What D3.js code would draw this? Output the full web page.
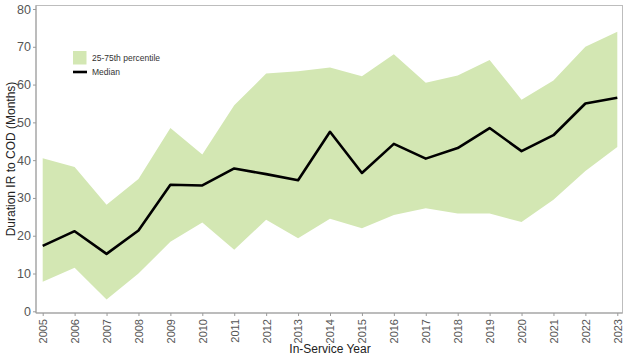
<!DOCTYPE html>
<html><head><meta charset="utf-8">
<script src="https://cdn.jsdelivr.net/npm/d3@7"></script>
<style>body{margin:0;background:#fff;} svg{display:block;font-family:"Liberation Sans",Arial,sans-serif;}</style>
</head><body>
<svg id="c" width="624" height="356"></svg>
<script>
const years = [2005,2006,2007,2008,2009,2010,2011,2012,2013,2014,2015,2016,2017,2018,2019,2020,2021,2022,2023];
const p75 = [40.5,38.2,28.2,35,48.5,41.5,54.5,62.9,63.5,64.5,62.2,68,60.5,62.4,66.5,56,61.1,70,74];
const median = [17.3,21.2,15.2,21.4,33.5,33.3,37.8,36.3,34.7,47.5,36.6,44.3,40.4,43.2,48.5,42.4,46.6,55,56.5];
const p25 = [7.8,11.5,3.1,10,18.4,23.5,16.3,24.2,19.3,24.5,22,25.5,27.3,25.9,25.9,23.6,29.5,37.1,43.5];
const yTicks = [0,10,20,30,40,50,60,70,80];

const svg = d3.select("#c");
const L = 36, R = 622.5, T = 5.5, B = 313;
const x = d3.scaleLinear().domain([2005,2023]).range([42.7,617.3]);
const y = d3.scaleLinear().domain([0,80]).range([311.3,9]);

const data = years.map((yr,i)=>({yr, lo:p25[i], hi:p75[i], md:median[i]}));

svg.append("path").datum(data)
  .attr("fill","#d3e7b3")
  .attr("d", d3.area().x(d=>x(d.yr)).y0(d=>y(d.lo)).y1(d=>y(d.hi)));

svg.append("path").datum(data)
  .attr("fill","none").attr("stroke","#000").attr("stroke-width",2.6)
  .attr("stroke-linejoin","round")
  .attr("d", d3.line().x(d=>x(d.yr)).y(d=>y(d.md)));

// panel border
svg.append("rect").attr("x",L).attr("y",T).attr("width",R-L).attr("height",B-T)
  .attr("fill","none").attr("stroke","#bdbdbd").attr("stroke-width",1);

// y axis
const ya = svg.append("g").attr("transform",`translate(${L},0)`)
  .call(d3.axisLeft(y).tickValues(yTicks).tickSize(3).tickPadding(2));
ya.select(".domain").attr("stroke","#9a9a9a").attr("d",`M0,${T}V${B}`);
ya.selectAll(".tick line").attr("stroke","#9a9a9a");
ya.selectAll("text").attr("fill","#555").style("font-size","12.5px");

// x axis
const xa = svg.append("g").attr("transform",`translate(0,${B})`)
  .call(d3.axisBottom(x).tickValues(years).tickFormat(d3.format("d")).tickSize(3));
xa.select(".domain").attr("stroke","#9a9a9a").attr("d",`M${L},0H${R}`);
xa.selectAll(".tick line").attr("stroke","#9a9a9a");
xa.selectAll("text").attr("fill","#555").style("font-size","11px")
  .attr("text-anchor","end").attr("transform","rotate(-90)")
  .attr("x",-6).attr("y",0).attr("dy","0.35em");

// axis titles
svg.append("text").attr("x",330).attr("y",353).attr("text-anchor","middle")
  .attr("fill","#222").style("font-size","12px").text("In-Service Year");
svg.append("text").attr("transform","translate(15,159) rotate(-90)").attr("text-anchor","middle")
  .attr("fill","#222").style("font-size","12px").text("Duration IR to COD (Months)");

// legend
const lg = svg.append("g");
lg.append("rect").attr("x",73).attr("y",51).attr("width",13.5).attr("height",13.5).attr("fill","#d3e7b3");
lg.append("text").attr("x",92).attr("y",58).attr("dy","0.35em").attr("fill","#333").style("font-size","8.5px").text("25-75th percentile");
lg.append("line").attr("x1",73).attr("x2",87).attr("y1",72).attr("y2",72).attr("stroke","#000").attr("stroke-width",2.6);
lg.append("text").attr("x",92).attr("y",72).attr("dy","0.35em").attr("fill","#333").style("font-size","8.5px").text("Median");
</script>
</body></html>
